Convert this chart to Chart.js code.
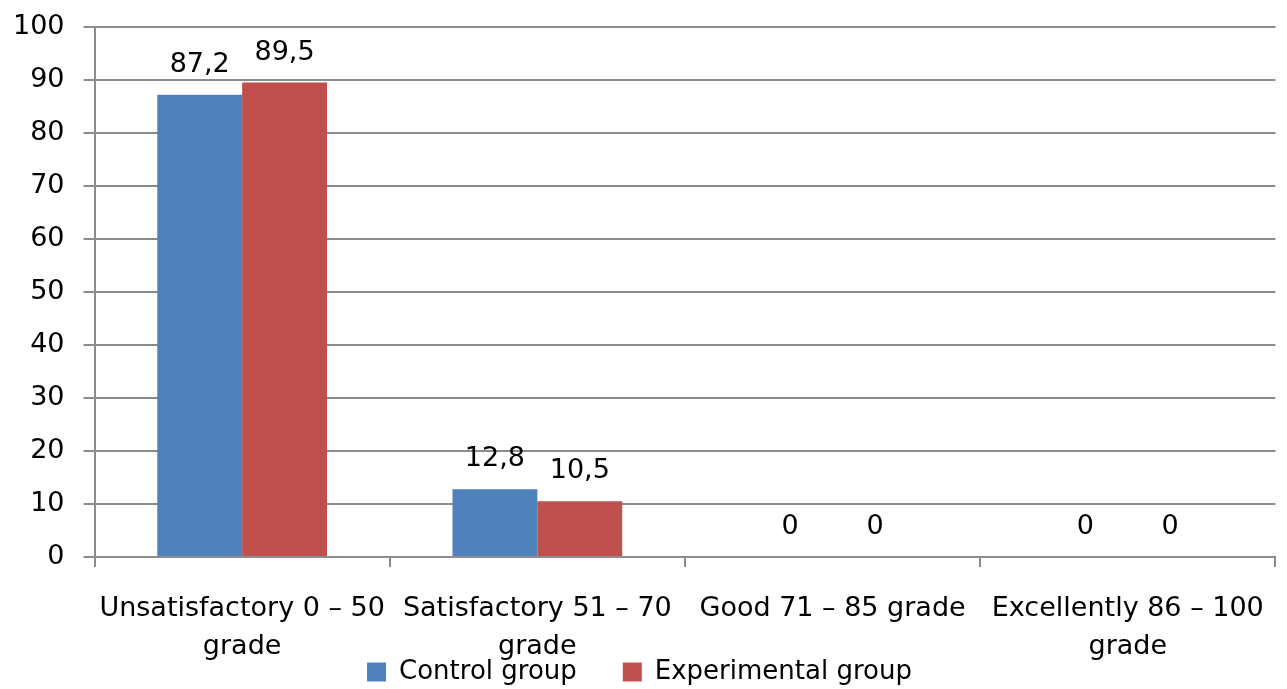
<!DOCTYPE html>
<html>
<head>
<meta charset="utf-8">
<script src="https://cdn.jsdelivr.net/npm/chart.js@4/dist/chart.umd.min.js"></script>
<style>
    html, body { margin: 0; padding: 0; background: #fff; }
    #chart_container { width: 1287px; height: 689px; }
</style>
</head>
<body>
<div id="chart_container"><canvas id="myChart"></canvas></div>
<script>
const categories = [
    ["Unsatisfactory 0 – 50", "grade"],
    ["Satisfactory 51 – 70", "grade"],
    ["Good 71 – 85 grade"],
    ["Excellently 86 – 100", "grade"]
];
const controlGroup = [87.2, 12.8, 0, 0];
const experimentalGroup = [89.5, 10.5, 0, 0];
const yTicks = [0, 10, 20, 30, 40, 50, 60, 70, 80, 90, 100];

const FONT = "'DejaVu Sans', 'Open Sans', sans-serif";
const SIZE = 27;

// writes the value above each bar, with a decimal comma
const valueLabels = {
    id: "valueLabels",
    afterDatasetsDraw(chart) {
        const ctx = chart.ctx;
        ctx.save();
        ctx.font = SIZE + "px " + FONT;
        ctx.fillStyle = "#000";
        ctx.textAlign = "center";
        ctx.textBaseline = "middle";
        chart.data.datasets.forEach((ds, i) => {
            chart.getDatasetMeta(i).data.forEach((bar, j) => {
                const text = String(ds.data[j]).replace(".", ",");
                ctx.fillText(text, bar.x, bar.y - 30);
            });
        });
        ctx.restore();
    }
};

// x axis is squeezed so the legend sits close; let its labels draw past the box
const looseLabels = {
    id: "looseLabels",
    afterLayout(chart) {
        chart.scales.x.bottom = chart.height;
    }
};

const ctx = document.getElementById("myChart").getContext("2d");
new Chart(ctx, {
    type: "bar",
    data: {
        labels: categories,
        datasets: [
            {
                label: "Control group",
                data: controlGroup,
                backgroundColor: "#4F81BD",
                categoryPercentage: 0.575,
                barPercentage: 1
            },
            {
                label: "Experimental group",
                data: experimentalGroup,
                backgroundColor: "#C0504D",
                categoryPercentage: 0.575,
                barPercentage: 1
            }
        ]
    },
    options: {
        responsive: true,
        maintainAspectRatio: false,
        animation: false,
        layout: { padding: { left: -6, right: 2, top: 0, bottom: -6 } },
        plugins: {
            legend: {
                position: "bottom",
                onClick: null,
                labels: {
                    font: { family: FONT, size: 26 },
                    color: "#000",
                    boxWidth: 19,
                    boxHeight: 19,
                    padding: 46
                }
            },
            tooltip: { enabled: false }
        },
        scales: {
            x: {
                afterFit: (scale) => { scale.height = 56; },
                grid: {
                    offset: true,
                    drawOnChartArea: false,
                    color: "#8c8c8c",
                    lineWidth: 2,
                    tickLength: 10
                },
                border: { color: "#8c8c8c", width: 2 },
                ticks: {
                    font: { family: FONT, size: SIZE, lineHeight: 1.4 },
                    color: "#000",
                    maxRotation: 0,
                    autoSkip: false,
                    padding: 23
                }
            },
            y: {
                min: 0,
                max: 100,
                afterBuildTicks: (axis) => { axis.ticks = yTicks.map(v => ({ value: v })); },
                grid: {
                    color: "#8c8c8c",
                    lineWidth: 2,
                    tickLength: 11
                },
                border: { color: "#8c8c8c", width: 2 },
                ticks: {
                    font: { family: FONT, size: SIZE, lineHeight: 0.59 },
                    color: "#000",
                    padding: 19
                }
            }
        }
    },
    plugins: [valueLabels, looseLabels]
});
</script>
</body>
</html>
